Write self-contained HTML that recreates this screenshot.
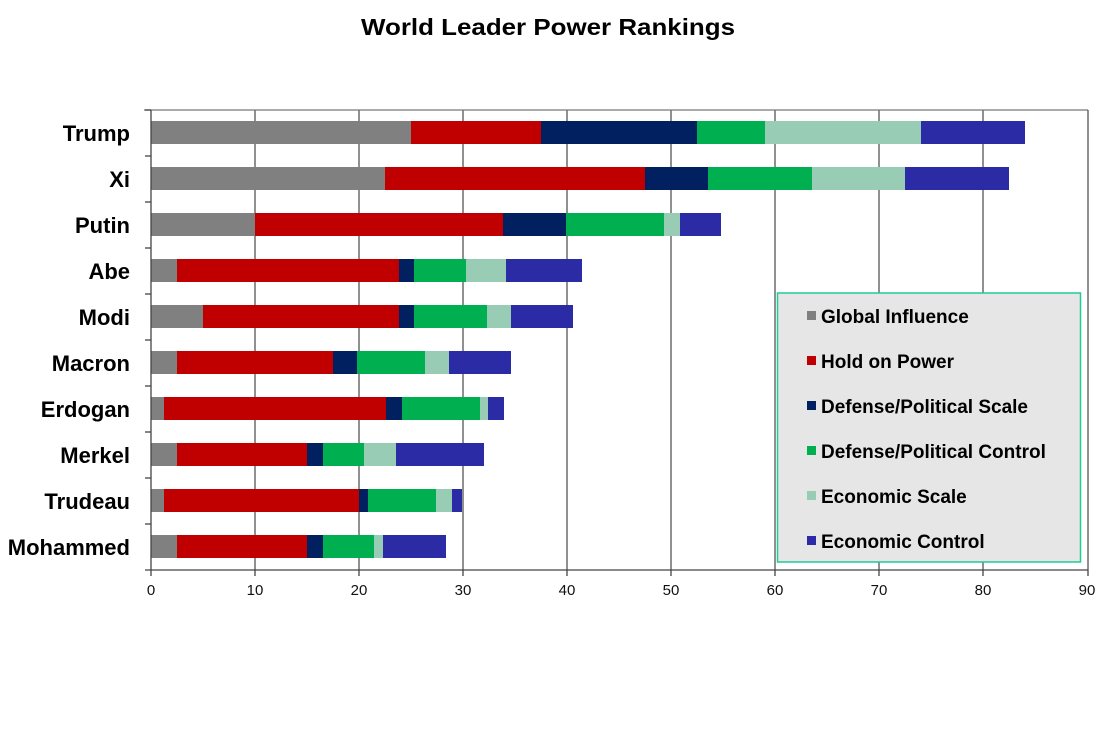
<!DOCTYPE html>
<html><head><meta charset="utf-8"><style>body{margin:0;background:#fff}svg{display:block}</style></head><body>
<svg width="1110" height="731" xmlns="http://www.w3.org/2000/svg" font-family="Liberation Sans, sans-serif">
<rect width="1110" height="731" fill="#fff"/>
<text x="548" y="35" text-anchor="middle" font-size="23" font-weight="bold" textLength="374" lengthAdjust="spacingAndGlyphs">World Leader Power Rankings</text>
<g stroke="#555" stroke-width="1.3">
<line x1="255" y1="110" x2="255" y2="570"/><line x1="359" y1="110" x2="359" y2="570"/><line x1="463" y1="110" x2="463" y2="570"/><line x1="567" y1="110" x2="567" y2="570"/><line x1="671" y1="110" x2="671" y2="570"/><line x1="775" y1="110" x2="775" y2="570"/><line x1="879" y1="110" x2="879" y2="570"/><line x1="983" y1="110" x2="983" y2="570"/>
</g>
<line x1="144" y1="110" x2="1088" y2="110" stroke="#777" stroke-width="1.3"/>
<line x1="1088" y1="110" x2="1088" y2="570" stroke="#555" stroke-width="1.3"/>
<g>
<rect x="151" y="121" width="260" height="23" fill="#808080"/><rect x="411" y="121" width="130" height="23" fill="#c00000"/><rect x="541" y="121" width="156" height="23" fill="#002060"/><rect x="697" y="121" width="68" height="23" fill="#00b050"/><rect x="765" y="121" width="156" height="23" fill="#99ccb4"/><rect x="921" y="121" width="104" height="23" fill="#2b2ba6"/>
<rect x="151" y="167" width="234" height="23" fill="#808080"/><rect x="385" y="167" width="260" height="23" fill="#c00000"/><rect x="645" y="167" width="63" height="23" fill="#002060"/><rect x="708" y="167" width="104" height="23" fill="#00b050"/><rect x="812" y="167" width="93" height="23" fill="#99ccb4"/><rect x="905" y="167" width="104" height="23" fill="#2b2ba6"/>
<rect x="151" y="213" width="104" height="23" fill="#808080"/><rect x="255" y="213" width="248" height="23" fill="#c00000"/><rect x="503" y="213" width="63" height="23" fill="#002060"/><rect x="566" y="213" width="98" height="23" fill="#00b050"/><rect x="664" y="213" width="16" height="23" fill="#99ccb4"/><rect x="680" y="213" width="41" height="23" fill="#2b2ba6"/>
<rect x="151" y="259" width="26" height="23" fill="#808080"/><rect x="177" y="259" width="222" height="23" fill="#c00000"/><rect x="399" y="259" width="15" height="23" fill="#002060"/><rect x="414" y="259" width="52" height="23" fill="#00b050"/><rect x="466" y="259" width="40" height="23" fill="#99ccb4"/><rect x="506" y="259" width="76" height="23" fill="#2b2ba6"/>
<rect x="151" y="305" width="52" height="23" fill="#808080"/><rect x="203" y="305" width="196" height="23" fill="#c00000"/><rect x="399" y="305" width="15" height="23" fill="#002060"/><rect x="414" y="305" width="73" height="23" fill="#00b050"/><rect x="487" y="305" width="24" height="23" fill="#99ccb4"/><rect x="511" y="305" width="62" height="23" fill="#2b2ba6"/>
<rect x="151" y="351" width="26" height="23" fill="#808080"/><rect x="177" y="351" width="156" height="23" fill="#c00000"/><rect x="333" y="351" width="24" height="23" fill="#002060"/><rect x="357" y="351" width="68" height="23" fill="#00b050"/><rect x="425" y="351" width="24" height="23" fill="#99ccb4"/><rect x="449" y="351" width="62" height="23" fill="#2b2ba6"/>
<rect x="151" y="397" width="13" height="23" fill="#808080"/><rect x="164" y="397" width="222" height="23" fill="#c00000"/><rect x="386" y="397" width="16" height="23" fill="#002060"/><rect x="402" y="397" width="78" height="23" fill="#00b050"/><rect x="480" y="397" width="8" height="23" fill="#99ccb4"/><rect x="488" y="397" width="16" height="23" fill="#2b2ba6"/>
<rect x="151" y="443" width="26" height="23" fill="#808080"/><rect x="177" y="443" width="130" height="23" fill="#c00000"/><rect x="307" y="443" width="16" height="23" fill="#002060"/><rect x="323" y="443" width="41" height="23" fill="#00b050"/><rect x="364" y="443" width="32" height="23" fill="#99ccb4"/><rect x="396" y="443" width="88" height="23" fill="#2b2ba6"/>
<rect x="151" y="489" width="13" height="23" fill="#808080"/><rect x="164" y="489" width="195" height="23" fill="#c00000"/><rect x="359" y="489" width="9" height="23" fill="#002060"/><rect x="368" y="489" width="68" height="23" fill="#00b050"/><rect x="436" y="489" width="16" height="23" fill="#99ccb4"/><rect x="452" y="489" width="10" height="23" fill="#2b2ba6"/>
<rect x="151" y="535" width="26" height="23" fill="#808080"/><rect x="177" y="535" width="130" height="23" fill="#c00000"/><rect x="307" y="535" width="16" height="23" fill="#002060"/><rect x="323" y="535" width="51" height="23" fill="#00b050"/><rect x="374" y="535" width="9" height="23" fill="#99ccb4"/><rect x="383" y="535" width="63" height="23" fill="#2b2ba6"/>
</g>
<g stroke="#444" stroke-width="1.3">
<line x1="151" y1="110" x2="151" y2="576"/>
<line x1="145" y1="570" x2="1088" y2="570"/>
<line x1="145" y1="110" x2="151" y2="110"/><line x1="145" y1="156" x2="151" y2="156"/><line x1="145" y1="202" x2="151" y2="202"/><line x1="145" y1="248" x2="151" y2="248"/><line x1="145" y1="294" x2="151" y2="294"/><line x1="145" y1="340" x2="151" y2="340"/><line x1="145" y1="386" x2="151" y2="386"/><line x1="145" y1="432" x2="151" y2="432"/><line x1="145" y1="478" x2="151" y2="478"/><line x1="145" y1="524" x2="151" y2="524"/>
<line x1="255" y1="570" x2="255" y2="576"/><line x1="359" y1="570" x2="359" y2="576"/><line x1="463" y1="570" x2="463" y2="576"/><line x1="567" y1="570" x2="567" y2="576"/><line x1="671" y1="570" x2="671" y2="576"/><line x1="775" y1="570" x2="775" y2="576"/><line x1="879" y1="570" x2="879" y2="576"/><line x1="983" y1="570" x2="983" y2="576"/><line x1="1088" y1="570" x2="1088" y2="576"/>
</g>
<g font-size="15" text-anchor="middle" fill="#111">
<text x="151" y="595">0</text><text x="255" y="595">10</text><text x="359" y="595">20</text><text x="463" y="595">30</text><text x="567" y="595">40</text><text x="671" y="595">50</text><text x="775" y="595">60</text><text x="879" y="595">70</text><text x="983" y="595">80</text><text x="1087" y="595">90</text>
</g>
<g font-size="22" font-weight="bold" text-anchor="end" fill="#000">
<text x="130" y="141">Trump</text><text x="130" y="187">Xi</text><text x="130" y="233">Putin</text><text x="130" y="279">Abe</text><text x="130" y="325">Modi</text><text x="130" y="371">Macron</text><text x="130" y="417">Erdogan</text><text x="130" y="463">Merkel</text><text x="130" y="509">Trudeau</text><text x="130" y="555">Mohammed</text>
</g>
<rect x="777.5" y="293" width="303" height="269" fill="#e6e6e6" stroke="#1fcc99" stroke-width="1.5"/>
<g font-size="19" font-weight="bold" fill="#000">
<rect x="807" y="311" width="9" height="9" fill="#808080"/><text x="821" y="323">Global Influence</text>
<rect x="807" y="356" width="9" height="9" fill="#c00000"/><text x="821" y="368">Hold on Power</text>
<rect x="807" y="401" width="9" height="9" fill="#002060"/><text x="821" y="413">Defense/Political Scale</text>
<rect x="807" y="446" width="9" height="9" fill="#00b050"/><text x="821" y="458">Defense/Political Control</text>
<rect x="807" y="491" width="9" height="9" fill="#99ccb4"/><text x="821" y="503">Economic Scale</text>
<rect x="807" y="536" width="9" height="9" fill="#2b2ba6"/><text x="821" y="548">Economic Control</text>
</g>
</svg>
</body></html>
